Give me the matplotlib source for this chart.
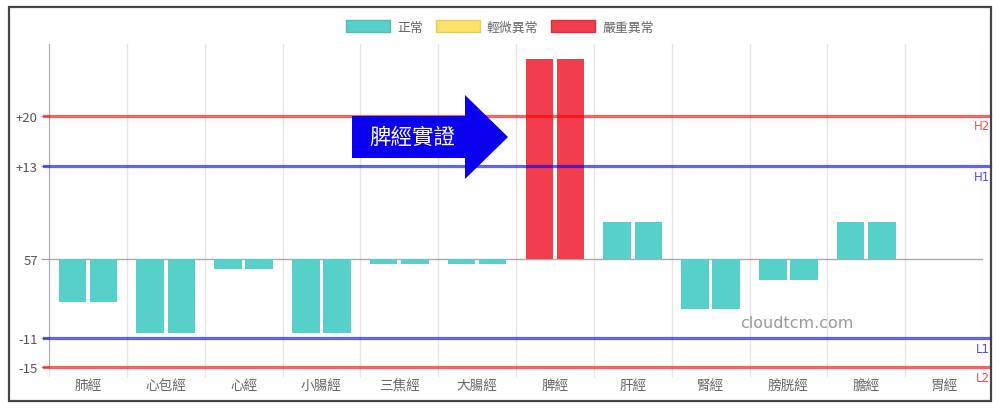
import numpy as np
import matplotlib.pyplot as plt
from matplotlib.patches import Patch, Polygon, Rectangle
from matplotlib.transforms import blended_transform_factory

plt.rcParams['font.family'] = ['Noto Sans CJK TC', 'DejaVu Sans']

# datos: desviación de cada meridiano respecto al valor base 57
meridianos = ['肺經', '心包經', '心經', '小腸經', '三焦經', '大腸經',
              '脾經', '肝經', '腎經', '膀胱經', '膽經', '胃經']
izquierda = [-5.9, -10.3, -1.4, -10.3, -0.6, -0.6, 27.9, 5.2, -6.9, -2.9, 5.2, 0]
derecha = [-5.9, -10.3, -1.4, -10.3, -0.6, -0.6, 27.9, 5.2, -6.9, -2.9, 5.2, 0]
estado = ['正常', '正常', '正常', '正常', '正常', '正常',
          '嚴重異常', '正常', '正常', '正常', '正常', '正常']

y_ticks = [20, 13, 0, -11, -15]
y_labels = ['+20', '+13', '57', '-11', '-15']
limites = [('H2', 20, 'red'), ('H1', 13, 'blue'), ('L1', -11, 'blue'), ('L2', -15, 'red')]

colores = {'正常': '#56d0c8', '輕微異常': '#fde26a', '嚴重異常': '#f23d4d'}
bordes = {'正常': '#4bbdb5', '輕微異常': '#e8cc55', '嚴重異常': '#d8303f'}

W, H = 1000, 414
fig = plt.figure(figsize=(W / 100, H / 100), dpi=100)
ax = fig.add_axes([49 / W, 1 - 368 / H, 934 / W, 323 / H])

x = np.arange(len(meridianos))
c = [colores[e] for e in estado]
ax.bar(x - 0.2, izquierda, width=0.355, color=c, zorder=3)
ax.bar(x + 0.2, derecha, width=0.355, color=c, zorder=3)

ax.set_xlim(-0.5, len(meridianos) - 0.5)
ax.set_ylim(-15, 30)

# rejilla vertical entre categorías
ax.set_xticks(x)
ax.set_xticklabels(meridianos, fontsize=9.8, color='#666')
ax.set_xticks(np.arange(-0.5, len(meridianos)), minor=True)
ax.tick_params(axis='x', which='major', length=0, pad=8)
ax.tick_params(axis='x', which='minor', length=7.5, color='#e6e6e6', width=1)
ax.grid(True, axis='x', which='minor', color='#e6e6e6', lw=1, zorder=0)

ax.set_yticks(y_ticks)
ax.set_yticklabels(y_labels, fontsize=9.5, color='#555')
ax.tick_params(axis='y', length=6, color='#999', pad=2)

for s in ['top', 'right', 'bottom']:
    ax.spines[s].set_visible(False)
ax.spines['left'].set_color('#aaa')

ax.axhline(0, color='#aaa', lw=1, zorder=2)

# líneas de límites
trans = blended_transform_factory(fig.transFigure, ax.transData)
for nombre, val, col in limites:
    ax.axhline(val, xmin=-0.0054, xmax=1.0075, color=col, alpha=0.62, lw=2.3,
               clip_on=False, zorder=4)
    ax.text(990 / W, val - 0.5, nombre, transform=trans, ha='right', va='top',
            fontsize=8.5, color=col, alpha=0.7, family='DejaVu Sans')

# flecha de anotación
def px(xp, yp):
    return (xp / W, 1 - yp / H)

flecha = [px(352, 117), px(465, 117), px(465, 96), px(508, 138),
          px(465, 180), px(465, 159), px(352, 159)]
fig.patches.append(Polygon(flecha, closed=True, transform=fig.transFigure,
                           facecolor='#0a00ee', edgecolor='none', zorder=10))
fig.text(*px(412, 138), '脾經實證', color='white', fontsize=15.5,
         ha='center', va='center', zorder=11)

fig.text(*px(797, 324), 'cloudtcm.com', color='#9a9a9a', fontsize=11.5,
         ha='center', va='center', family='DejaVu Sans')

# leyenda
handles = [Patch(facecolor=colores[k], edgecolor=bordes[k], label=k)
           for k in ['正常', '輕微異常', '嚴重異常']]
fig.legend(handles=handles, loc='center', bbox_to_anchor=px(500, 28), ncol=3,
           frameon=False, fontsize=9.3, labelcolor='#666', handlelength=3.4,
           handleheight=1.0, handletextpad=0.55, columnspacing=1.0)

# marco
fig.patches.append(Rectangle(px(9, 402), 982 / W, 394 / H, transform=fig.transFigure,
                             fill=False, edgecolor='#444', lw=1.6, zorder=20))

plt.savefig('out.png', dpi=100)
